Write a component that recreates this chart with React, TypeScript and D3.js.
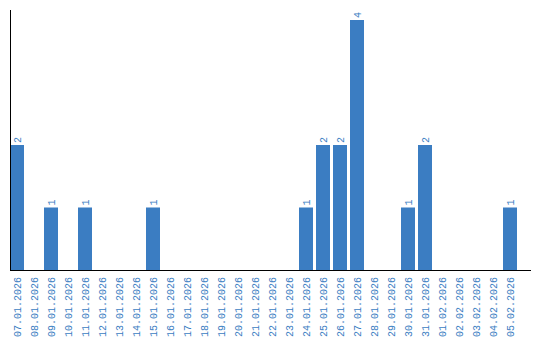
import React from "react";
import * as d3 from "d3";

const dates = [
  "07.01.2026","08.01.2026","09.01.2026","10.01.2026","11.01.2026","12.01.2026",
  "13.01.2026","14.01.2026","15.01.2026","16.01.2026","17.01.2026","18.01.2026",
  "19.01.2026","20.01.2026","21.01.2026","22.01.2026","23.01.2026","24.01.2026",
  "25.01.2026","26.01.2026","27.01.2026","28.01.2026","29.01.2026","30.01.2026",
  "31.01.2026","01.02.2026","02.02.2026","03.02.2026","04.02.2026","05.02.2026",
];
const counts = [2,0,1,0,1,0,0,0,1,0,0,0,0,0,0,0,0,1,2,2,4,0,0,1,2,0,0,0,0,1];

const W = 540, H = 340;
const color = "#3b7dc2";
const font = "Liberation Mono, DejaVu Sans Mono, monospace";

export default function App() {
  const x = d3.scaleBand<string>().domain(dates).range([10, 517]).paddingInner(3 / 17).paddingOuter(0);
  const y = d3.scaleLinear().domain([0, 4]).range([270, 20]);
  return (
    <svg width={W} height={H} style={{ position: "absolute", left: 0, top: 0 }}>
      {dates.map((d, i) => {
        const v = counts[i];
        const bx = x(d)!;
        const cx = bx + x.bandwidth() / 2;
        return (
          <g key={d}>
            {v > 0 && (
              <rect x={bx} y={y(v)} width={x.bandwidth()} height={y(0) - y(v)} fill={color} />
            )}
            {v > 0 && (
              <text
                transform={`translate(${cx},${y(v) - 2}) rotate(-90)`}
                dy="0.35em"
                fontSize={10}
                fontFamily={font}
                fill={color}
                textAnchor="start"
              >
                {v}
              </text>
            )}
            <text
              transform={`translate(${cx},277) rotate(-90)`}
              dy="0.35em"
              fontSize={10}
              fontFamily={font}
              fill={color}
              textAnchor="end"
            >
              {d}
            </text>
          </g>
        );
      })}
      <line x1={10.5} x2={10.5} y1={10} y2={270} stroke="#000" strokeWidth={1} />
      <line x1={10} x2={531} y1={270.5} y2={270.5} stroke="#000" strokeWidth={1} />
    </svg>
  );
}
